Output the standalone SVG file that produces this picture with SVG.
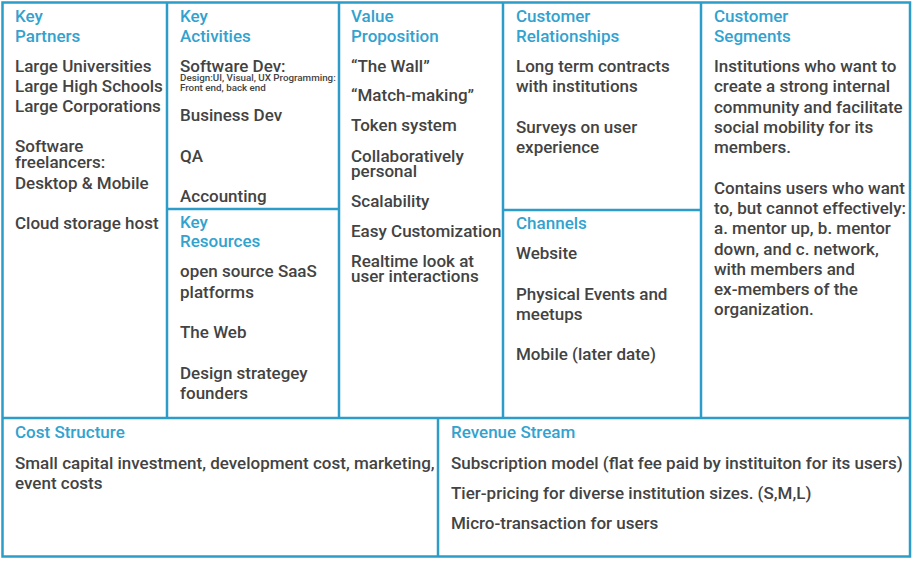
<svg xmlns="http://www.w3.org/2000/svg" width="912" height="561" viewBox="0 0 912 561">
  <style>
    .frame { fill: none; stroke: #2c9dc9; stroke-width: 2.5; }
    .head { font-family: Roboto, "Liberation Sans", sans-serif; font-size: 17px; font-weight: 500; fill: #32a2cf; }
    .body { font-family: Roboto, "Liberation Sans", sans-serif; font-size: 17px; font-weight: 500; fill: #434343; }
    .tiny { font-family: Roboto, "Liberation Sans", sans-serif; font-size: 9.8px; font-weight: 500; fill: #434343; }
  </style>
  <rect width="912" height="561" fill="#ffffff"/>

  <!-- canvas grid lines -->
  <g id="grid" class="frame">
    <rect x="2.5" y="2.5" width="907.5" height="554"/>
    <line x1="167" y1="2.5" x2="167" y2="418"/>
    <line x1="339" y1="2.5" x2="339" y2="418"/>
    <line x1="503" y1="2.5" x2="503" y2="418"/>
    <line x1="701" y1="2.5" x2="701" y2="418"/>
    <line x1="167" y1="209" x2="339" y2="209"/>
    <line x1="503" y1="210" x2="701" y2="210"/>
    <line x1="2.5" y1="418" x2="910" y2="418"/>
    <line x1="438" y1="418" x2="438" y2="556.5"/>
  </g>

  <g id="key-partners">
    <text class="head" x="15" y="22">Key</text>
    <text class="head" x="15" y="42">Partners</text>
    <text class="body" x="15" y="72">Large Universities</text>
    <text class="body" x="15" y="92">Large High Schools</text>
    <text class="body" x="15" y="112">Large Corporations</text>
    <text class="body" x="15" y="152">Software</text>
    <text class="body" x="15" y="168">freelancers:</text>
    <text class="body" x="15" y="189">Desktop &amp; Mobile</text>
    <text class="body" x="15" y="229">Cloud storage host</text>
  </g>

  <g id="key-activities">
    <text class="head" x="180" y="22">Key</text>
    <text class="head" x="180" y="42">Activities</text>
    <text class="body" x="180" y="72">Software Dev:</text>
    <text class="tiny" x="180" y="81">Design:UI, Visual, UX Programming:</text>
    <text class="tiny" x="180" y="91">Front end, back end</text>
    <text class="body" x="180" y="121">Business Dev</text>
    <text class="body" x="180" y="162">QA</text>
    <text class="body" x="180" y="202">Accounting</text>
  </g>

  <g id="key-resources">
    <text class="head" x="180" y="228">Key</text>
    <text class="head" x="180" y="247">Resources</text>
    <text class="body" x="180" y="277">open source SaaS</text>
    <text class="body" x="180" y="298">platforms</text>
    <text class="body" x="180" y="338">The Web</text>
    <text class="body" x="180" y="379">Design strategey</text>
    <text class="body" x="180" y="399">founders</text>
  </g>

  <g id="value-proposition">
    <text class="head" x="351" y="22">Value</text>
    <text class="head" x="351" y="42">Proposition</text>
    <text class="body" x="351" y="72">“The Wall”</text>
    <text class="body" x="351" y="101">“Match-making”</text>
    <text class="body" x="351" y="131">Token system</text>
    <text class="body" x="351" y="162">Collaboratively</text>
    <text class="body" x="351" y="177">personal</text>
    <text class="body" x="351" y="207">Scalability</text>
    <text class="body" x="351" y="237">Easy Customization</text>
    <text class="body" x="351" y="267">Realtime look at</text>
    <text class="body" x="351" y="282">user interactions</text>
  </g>

  <g id="customer-relationships">
    <text class="head" x="516" y="22">Customer</text>
    <text class="head" x="516" y="42">Relationships</text>
    <text class="body" x="516" y="72">Long term contracts</text>
    <text class="body" x="516" y="92">with institutions</text>
    <text class="body" x="516" y="133">Surveys on user</text>
    <text class="body" x="516" y="153">experience</text>
  </g>

  <g id="channels">
    <text class="head" x="516" y="229">Channels</text>
    <text class="body" x="516" y="259">Website</text>
    <text class="body" x="516" y="300">Physical Events and</text>
    <text class="body" x="516" y="320">meetups</text>
    <text class="body" x="516" y="360">Mobile (later date)</text>
  </g>

  <g id="customer-segments">
    <text class="head" x="714" y="22">Customer</text>
    <text class="head" x="714" y="42">Segments</text>
    <text class="body" x="714" y="72">Institutions who want to</text>
    <text class="body" x="714" y="92">create a strong internal</text>
    <text class="body" x="714" y="113">community and facilitate</text>
    <text class="body" x="714" y="133">social mobility for its</text>
    <text class="body" x="714" y="153">members.</text>
    <text class="body" x="714" y="194">Contains users who want</text>
    <text class="body" x="714" y="214">to, but cannot effectively:</text>
    <text class="body" x="714" y="234">a. mentor up, b. mentor</text>
    <text class="body" x="714" y="255">down, and c. network,</text>
    <text class="body" x="714" y="275">with members and</text>
    <text class="body" x="714" y="295">ex-members of the</text>
    <text class="body" x="714" y="315">organization.</text>
  </g>

  <g id="cost-structure">
    <text class="head" x="15" y="438">Cost Structure</text>
    <text class="body" x="15" y="469">Small capital investment, development cost, marketing,</text>
    <text class="body" x="15" y="489">event costs</text>
  </g>

  <g id="revenue-stream">
    <text class="head" x="451" y="438">Revenue Stream</text>
    <text class="body" x="451" y="469">Subscription model (flat fee paid by instituiton for its users)</text>
    <text class="body" x="451" y="499">Tier-pricing for diverse institution sizes. (S,M,L)</text>
    <text class="body" x="451" y="529">Micro-transaction for users</text>
  </g>
</svg>
